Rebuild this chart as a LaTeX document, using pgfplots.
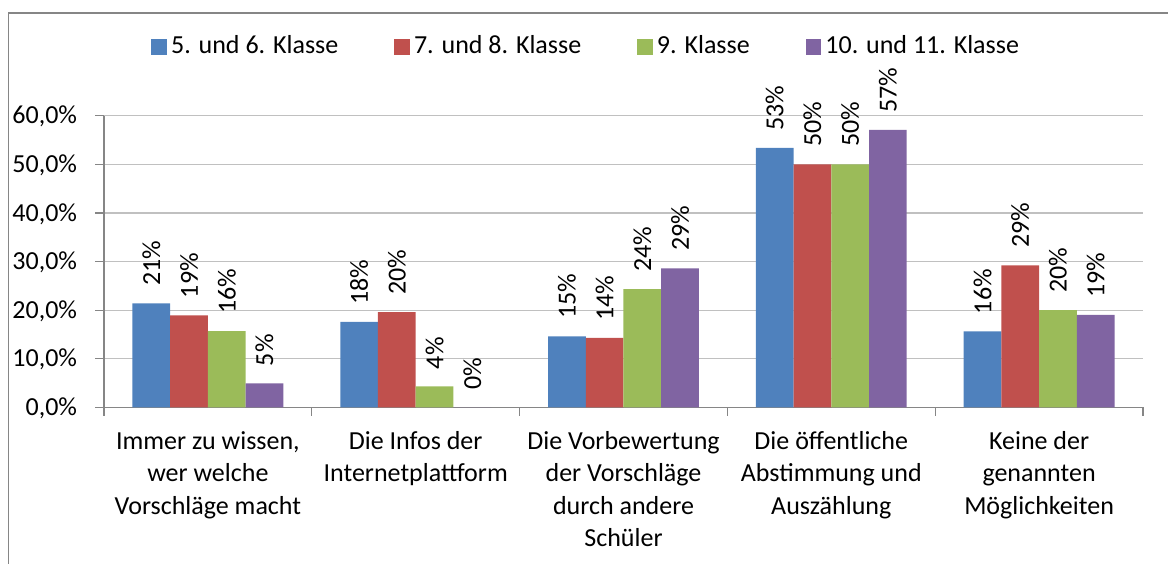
\documentclass[border=0pt]{standalone}
\usepackage{pgfplots}
\pgfplotsset{compat=1.18}
\usepackage{fontspec}
\setmainfont{Carlito}
\definecolor{cBlue}{HTML}{4F81BD}
\definecolor{cRed}{HTML}{C0504D}
\definecolor{cGreen}{HTML}{9BBB59}
\definecolor{cPurple}{HTML}{8064A2}
\definecolor{axisgray}{HTML}{868686}
\definecolor{gridgray}{HTML}{C0C0C0}
\begin{document}
\begin{tikzpicture}
\fontsize{13}{16.25}\selectfont
\useasboundingbox (0,0) rectangle (584pt,-281.5pt);
\draw[axisgray, line width=0.7pt] (4.35pt,-290pt) -- (4.35pt,-6.5pt) -- (590pt,-6.5pt);
\begin{axis}[
  at={(52pt,-203.65pt)}, anchor=south west,
  scale only axis, width=519.5pt, height=145.8pt,
  font=\fontsize{13}{16.25}\selectfont,
  /pgf/number format/assume math mode=true,
  ybar=0pt, bar width=0.1815,
  xmin=-0.5, xmax=4.5, ymin=0, ymax=60,
  axis lines*=left,
  axis line style={axisgray, line width=0.6pt},
  clip=false,
  xtick={0,1,2,3,4},
  xticklabels={{Immer zu wissen,\\wer welche\\Vorschläge macht},{Die Infos der\\Internetplattform},{Die Vorbewertung\\der Vorschläge\\durch andere\\Schüler},{Die öffentliche\\Abstimmung und\\Auszählung},{Keine der\\genannten\\Möglichkeiten}},
  major x tick style={draw=none},
  minor xtick={-0.5,0.5,1.5,2.5,3.5,4.5},
  minor tick length=4.3pt,
  major tick length=4.3pt,
  tick align=outside,
  tick style={axisgray, line width=0.6pt},
  xticklabel style={align=center, anchor=north, inner sep=0pt, yshift=-7.5pt, font=\fontsize{13}{16.25}\selectfont},
  ytick={0,10,20,30,40,50,60},
  yticklabel={\pgfmathprintnumber[fixed,fixed zerofill,precision=1,use comma]{\tick}\%},
  yticklabel style={anchor=base east, inner sep=0pt, yshift=-4.1pt, xshift=-9pt},
  ymajorgrids,
  grid style={gridgray, line width=0.6pt},
  nodes near coords={\pgfmathprintnumber[fixed,precision=0]{\pgfplotspointmeta}\%},
  every node near coord/.append style={yshift=8.5pt, rotate=90, anchor=west, inner sep=0pt, font=\fontsize{13}{16.25}\selectfont, black},
  legend image code/.code={\fill[#1] (0pt,-3.9pt) rectangle (7.85pt,3.9pt);},
  legend style={at={(axis description cs:0.4651,1.2366)}, anchor=center, draw=none, fill=none,
    legend columns=4, font=\fontsize{13}{16.25}\selectfont,
    /tikz/every even column/.append style={column sep=26pt},
    inner sep=0pt},
]
\addplot[fill=cBlue, draw=none] coordinates {(0,21.4) (1,17.6) (2,14.6) (3,53.4) (4,15.6)};
\addplot[fill=cRed, draw=none] coordinates {(0,18.9) (1,19.6) (2,14.3) (3,50.0) (4,29.2)};
\addplot[fill=cGreen, draw=none] coordinates {(0,15.7) (1,4.3) (2,24.3) (3,50.0) (4,20.0)};
\addplot[fill=cPurple, draw=none] coordinates {(0,4.9) (1,0) (2,28.6) (3,57.1) (4,19.0)};
\legend{5. und 6. Klasse,7. und 8. Klasse,9. Klasse,10. und 11. Klasse}
\end{axis}
\end{tikzpicture}
\end{document}
